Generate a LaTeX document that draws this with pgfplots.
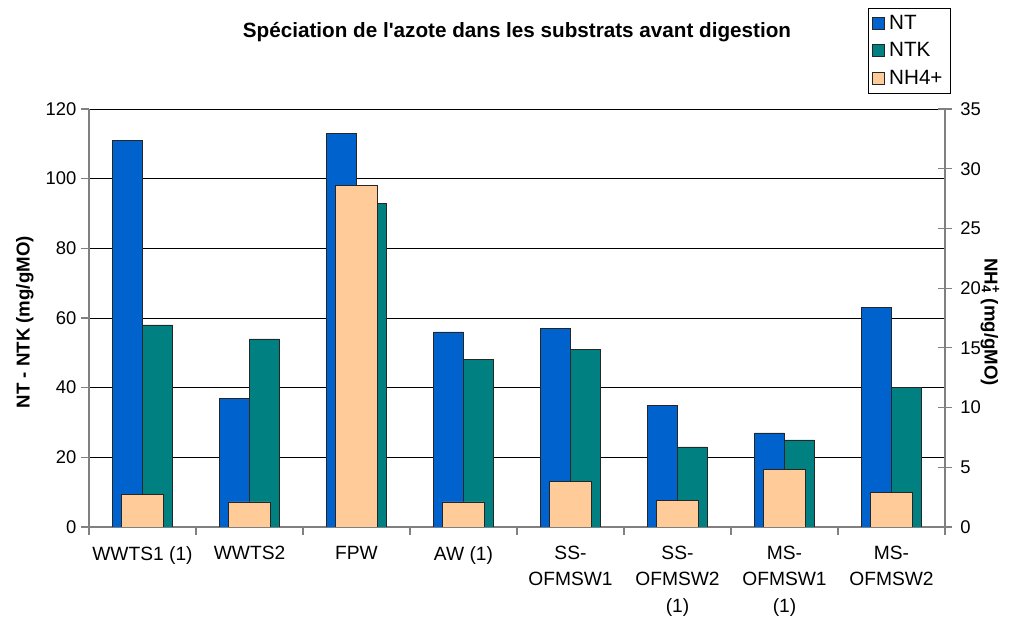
\documentclass[border=0pt]{standalone}
\usepackage{fontspec}
\setmainfont{Liberation Sans}
\newfontfamily\plainsans{Liberation Sans}
\usepackage{pgfplots}
\pgfplotsset{compat=1.18}

\definecolor{ntblue}{RGB}{0,98,204}
\definecolor{ntkteal}{RGB}{0,128,128}
\definecolor{nhpeach}{RGB}{255,204,153}
\definecolor{axgray}{RGB}{128,128,128}

\begin{document}
\begin{tikzpicture}[font=\fontsize{13.5}{20}\selectfont]
\pgfplotsset{
  every axis/.append style={
    scale only axis, width=642pt, height=313.5pt,
    xmin=-0.5, xmax=7.5, ymin=0,
    /pgf/number format/assume math mode=true,
    tick label style={font=\fontsize{13.8}{20}\selectfont},
    axis line style={axgray, line width=0.8pt},
    tick style={axgray, line width=0.8pt},
  },
}
\begin{axis}[
  name=main,
  ymax=120, ytick={0,20,...,120},
  axis x line*=bottom, axis y line*=left,
  tick align=outside,
  major tick length=6pt, minor tick length=6pt,
  xtick={0,...,7},
  xticklabels={{WWTS1 (1)},WWTS2,FPW,{AW (1)},{SS-\\OFMSW1},{SS-\\OFMSW2\\(1)},{MS-\\OFMSW1\\(1)},{MS-\\OFMSW2}},
  xticklabel style={align=center, anchor=north, yshift=-5pt, font=\fontsize{14.4}{19.6}\selectfont},
  major x tick style={draw=none},
  minor xtick={-0.5,0.5,...,7.5},
  ymajorgrids, grid style={black, line width=0.6pt},
  ylabel={\textbf{NT - NTK (mg/gMO)}},
  ylabel style={at={(axis description cs:-0.075,0.49)}, anchor=center, font=\fontsize{14}{20}\selectfont},
  title={\plainsans\bfseries Spéciation de l'azote dans les substrats avant digestion},
  title style={at={(axis description cs:0.5,1.165)}, anchor=center, yshift=0pt, font=\fontsize{15.5}{20}\selectfont},
  legend style={at={(axis description cs:0.910,1.2416)}, anchor=north west,
    draw=black, line width=0.6pt, font=\fontsize{15.5}{20}\selectfont,
    inner xsep=3pt, inner ysep=3pt, row sep=4.5pt,
    nodes={inner xsep=3pt}},
  legend cell align=left,
  legend image code/.code={\draw[#1, line width=0.6pt] (0pt,-4.5pt) rectangle (9pt,4.5pt);},
]
\addplot[ybar, bar width=0.28, bar shift=-0.14, fill=ntblue, draw=black!85, line width=0.5pt]
  coordinates {(0,111) (1,37) (2,113) (3,56) (4,57) (5,35) (6,27) (7,63)};
\addplot[ybar, bar width=0.28, bar shift=0.14, fill=ntkteal, draw=black!85, line width=0.5pt]
  coordinates {(0,58) (1,54) (2,93) (3,48) (4,51) (5,23) (6,25) (7,40)};
\addlegendimage{fill=nhpeach, draw=black!85}
\legend{NT,NTK,NH4+}
\end{axis}
\begin{axis}[
  ymax=35, ytick={0,5,...,35},
  axis y line*=right, axis x line=none,
  ytick align=center, major tick length=10pt,
  yticklabel style={xshift=3pt},
  ylabel={\textbf{NH\rlap{\textsubscript{4}}\textsuperscript{+} (mg/gMO)}},
  ylabel style={at={(axis description cs:1.0526,0.49)}, anchor=center, rotate=180, font=\fontsize{14}{20}\selectfont},
]
\addplot[ybar, bar width=0.39, bar shift=0, fill=nhpeach, draw=black!85, line width=0.5pt]
  coordinates {(0,2.7) (1,2.1) (2,28.6) (3,2.1) (4,3.85) (5,2.2) (6,4.8) (7,2.9)};
\end{axis}
\pgfresetboundingbox
\path ([shift={(-66.75pt,-67.5pt)}]main.south west) rectangle ([shift={(690.75pt,395.25pt)}]main.south west);
\end{tikzpicture}
\end{document}
